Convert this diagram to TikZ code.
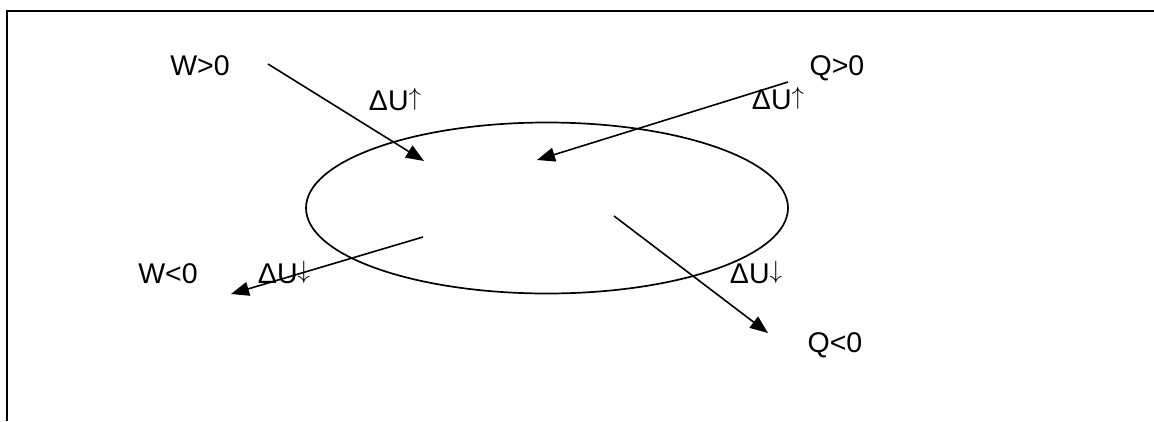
\documentclass[tikz,border=0pt]{standalone}
\usepackage{fontspec}
\setmainfont{Liberation Sans}
\usetikzlibrary{arrows.meta,shapes.geometric}
\newcommand{\myup}{\raisebox{4.6pt}{\fontsize{25}{30}\selectfont$\uparrow$}}
\newcommand{\mydown}{\raisebox{4.6pt}{\fontsize{25}{30}\selectfont$\downarrow$}}
\tikzset{
  lbl/.style={anchor=base,inner sep=0pt,font=\fontsize{28.5}{34}\selectfont},
  flow/.style={line width=1.6pt,-{Triangle[length=18pt,width=14pt]}},
  frameline/.style={line width=2.4pt},
}
\begin{document}
\begin{tikzpicture}[x=1pt,y=-1pt]
\useasboundingbox (0,0) rectangle (1154,421);
% frame (top and left edges)
\coordinate (fa) at (7,421);
\coordinate (fb) at (7,11);
\coordinate (fc) at (1154,11);
\draw[frameline] (fa) -- (fb) -- (fc);
% system
\node[draw,line width=1.7pt,ellipse,minimum width=482pt,minimum height=171pt,inner sep=0pt] (sys) at (547,208) {};
% labels
\node[lbl] (wpos) at (200,75) {W>0};
\node[lbl] (qpos) at (837,75) {Q>0};
\node[lbl] (dul1) at (395,110) {ΔU\myup};
\node[lbl] (dur1) at (778,109) {ΔU\myup};
\node[lbl] (wneg) at (168,283) {W<0};
\node[lbl] (dul2) at (284,283) {ΔU\mydown};
\node[lbl] (dur2) at (756,283) {ΔU\mydown};
\node[lbl] (qneg) at (835,352) {Q<0};
% arrow ends
\coordinate (a1s) at (268,64);
\coordinate (a1e) at (424,161);
\coordinate (a2s) at (788,82);
\coordinate (a2e) at (537,160);
\coordinate (a3s) at (423,237);
\coordinate (a3e) at (231,294);
\coordinate (a4s) at (614,216);
\coordinate (a4e) at (768,333);
\draw[flow] (a1s) -- (a1e);
\draw[flow] (a2s) -- (a2e);
\draw[flow] (a3s) -- (a3e);
\draw[flow] (a4s) -- (a4e);
\end{tikzpicture}
\end{document}
